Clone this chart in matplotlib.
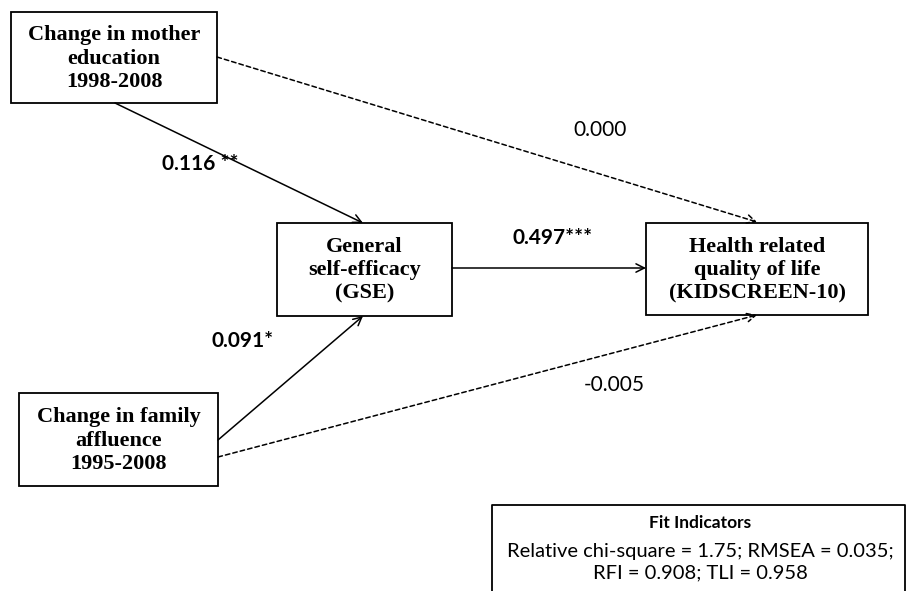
"""Path diagram: mother education / family affluence -> GSE -> HRQoL."""
import matplotlib
matplotlib.use("Agg")
import matplotlib.pyplot as plt
from matplotlib.patches import Rectangle

# boxes: name, label text
box_names = ["mother", "gse", "hrqol", "family"]
box_labels = ["Change in mother\neducation\n1998-2008",
              "General\nself-efficacy\n(GSE)",
              "Health related\nquality of life\n(KIDSCREEN-10)",
              "Change in family\naffluence\n1995-2008"]
# box extents in pixel coords (x0, y0, x1, y1)
box_pos = {"mother": (11, 12, 217, 103),
           "gse": (277, 223, 452, 316),
           "hrqol": (646, 223, 868, 315),
           "family": (19, 393, 218, 486)}

# paths: from, to, coefficient text, significant?
path_from = ["mother", "mother", "gse", "family", "family"]
path_to = ["gse", "hrqol", "hrqol", "gse", "hrqol"]
path_coef = ["0.116 **", "0.000", "0.497***", "0.091*", "-0.005"]
path_sig = [True, False, True, True, False]
# start / end points and label positions
path_start = [(115, 103), (217, 57), (452, 268), (218, 440), (218, 457)]
path_end = [(363, 223), (757, 222), (646, 268), (363, 316), (757, 315)]
label_pos = [(200, 164), (600, 130), (553, 238), (243, 341), (614, 385)]

fit_title = "Fit Indicators"
fit_lines = "Relative chi-square = 1.75; RMSEA = 0.035;\nRFI = 0.908; TLI = 0.958"

fig = plt.figure(figsize=(9.09, 5.91), dpi=100)
ax = fig.add_axes([0, 0, 1, 1])
ax.set_xlim(0, 909)
ax.set_ylim(591, 0)
ax.axis("off")

for name, lab in zip(box_names, box_labels):
    x0, y0, x1, y1 = box_pos[name]
    ax.add_patch(Rectangle((x0, y0), x1 - x0, y1 - y0, fill=False,
                           edgecolor="black", linewidth=1.3))
    ax.text((x0 + x1) / 2, (y0 + y1) / 2 + 1, lab, ha="center", va="center",
            family="Liberation Serif", fontweight="bold", fontsize=16,
            linespacing=1.22)

for s, e, coef, sig, lp in zip(path_start, path_end, path_coef, path_sig, label_pos):
    ls = "-" if sig else (0, (3, 2))
    ax.annotate("", xy=e, xytext=s,
                arrowprops=dict(arrowstyle="->,head_length=0.6,head_width=0.3",
                                color="black", lw=1.1, linestyle=ls,
                                shrinkA=0, shrinkB=0))
    ax.text(lp[0], lp[1], coef, ha="center", va="center", family="Lato",
            fontweight="bold" if sig else "normal", fontsize=15)

# fit box, open at the bottom
ax.plot([492, 492, 905, 905], [591, 505, 505, 591], color="black", lw=1.3)
ax.text(700, 523, fit_title, ha="center", va="center", family="Lato",
        fontweight="bold", fontsize=12.5)
ax.text(700, 562, fit_lines, ha="center", va="center", family="Lato",
        fontsize=14.5, linespacing=1.35)

fig.savefig("out.png", dpi=100)
